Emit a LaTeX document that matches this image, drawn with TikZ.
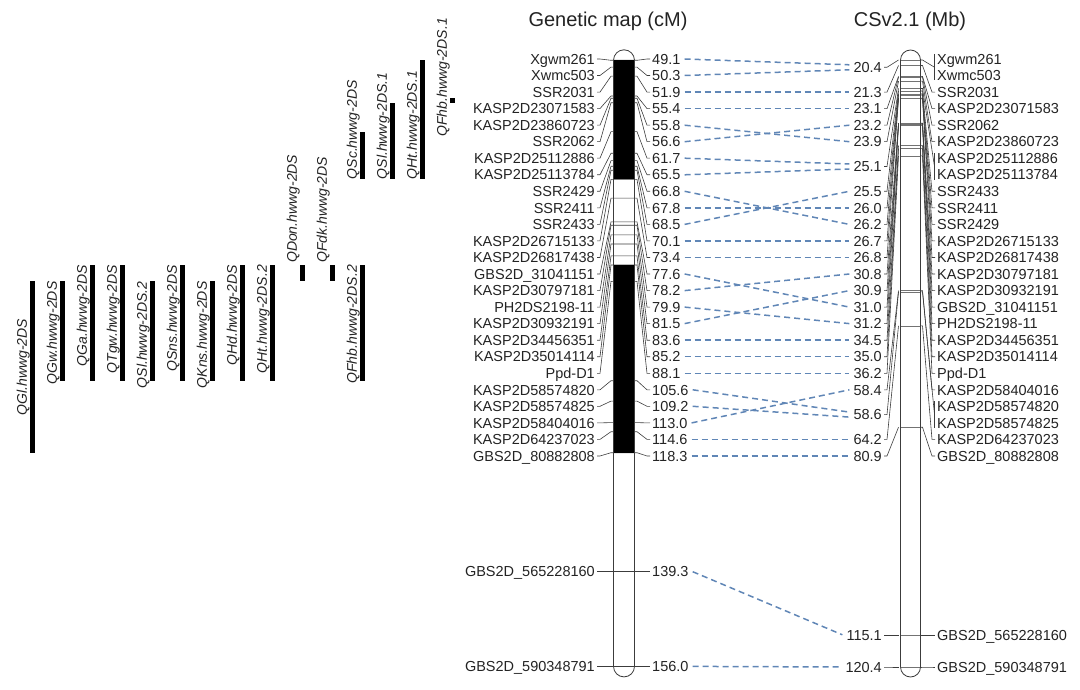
\documentclass[tikz,border=0pt]{standalone}
\usepackage{fontspec}
\setmainfont{Liberation Sans}
\usetikzlibrary{calc}

\definecolor{linkgray}{RGB}{60,60,60}
\definecolor{dashblue}{RGB}{96,134,182}
\definecolor{textgray}{RGB}{35,35,35}

\newcommand{\GenMarker}[5]{%
  \node[gname] (gn#1) at (595,#4) {#2};
  \node[gval] (gv#1) at (652,#4) {#3};
  \coordinate (gc#1) at (624,#5);
  \draw[link] ([xshift=2pt]gn#1.east) -- ++(3,0) -- ([xshift=-13pt]gc#1) -- ([xshift=13pt]gc#1) -- ([xshift=-5pt]gv#1.west) -- ([xshift=-2pt]gv#1.west);
}
\newcommand{\PhysValue}[4]{%
  \node[pval] (pv#1) at (882,#3) {#2};
  \coordinate (pc#1) at (910.5,#4);
  \draw[link] ([xshift=2pt]pv#1.east) -- ++(3,0) -- ([xshift=-12pt]pc#1);
  \draw[band] ([xshift=-10pt]pc#1) -- ([xshift=10pt]pc#1);
}
\newcommand{\PhysName}[4]{%
  \node[pname] (pn#1) at (937,#3) {#2};
  \draw[link] ([xshift=10pt]pc#4) -- ([xshift=12pt]pc#4) -- ([xshift=-5pt]pn#1.west) -- ([xshift=-2pt]pn#1.west);
}
\newcommand{\PhysPair}[7]{%
  \node[pname] (pn#1) at (937,#3) {#2};
  \node[pname] (pn#4) at (937,#6) {#5};
  \coordinate (br#7) at ($(pn#1.west)!0.5!(pn#4.west)+(-2.5,0)$);
  \draw[link] ([xshift=-2.5pt,yshift=5pt]pn#1.west) -- ([xshift=-2.5pt,yshift=-5pt]pn#4.west);
  \draw[link] ([xshift=10pt]pc#7) -- ([xshift=12pt]pc#7) -- (br#7);
}
\newcommand{\Synteny}[3]{%
  \draw[dlink] ([xshift=4pt]gv#1.east) -- ([xshift=-4pt,yshift=#3]pv#2.west);
}
\newcommand{\QTL}[7]{%
  \fill[black] (#3-2.2,#4) rectangle (#3+2.2,#5);
  \node[qtlname,anchor=#6] (q#1) at (#3-10.5,#7) {#2};
}

\begin{document}
\begin{tikzpicture}[x=1pt,y=-1pt]

\tikzset{
  gname/.style={anchor=east,inner sep=0pt,text height=10.4pt,text depth=0pt,text=textgray,font=\fontsize{14.5}{17}\selectfont},
  gval/.style={gname,anchor=west},
  pval/.style={gname,anchor=east},
  pname/.style={gname,anchor=west},
  link/.style={draw=linkgray,line width=0.6pt},
  band/.style={draw=black!55,line width=0.6pt},
  dlink/.style={draw=dashblue,line width=1.5pt,dash pattern=on 6pt off 4pt},
  chrom/.style={draw=linkgray,line width=0.8pt},
  qtlname/.style={rotate=90,inner sep=0pt,text height=10pt,text depth=0pt,text=textgray,font=\fontsize{14}{16}\selectfont\itshape},
  maptitle/.style={inner sep=0pt,text=textgray,font=\fontsize{20}{24}\selectfont}
}

\useasboundingbox (0,0) rectangle (1080,690);

\node[maptitle] (gtitle) at (608,21.7) {Genetic map (cM)};
\node[maptitle] (ptitle) at (910,21.7) {CSv2.1 (Mb)};

\fill[white,rounded corners=10.5pt] (613.5,49.8) rectangle (634.5,676.9);
\fill[white,rounded corners=10pt] (900.5,50) rectangle (920.5,677);

\GenMarker{0}{Xgwm261}{49.1}{59.0}{60.3}
\GenMarker{1}{Xwmc503}{50.3}{75.5}{67.1}
\GenMarker{2}{SSR2031}{51.9}{92.1}{76.2}
\GenMarker{3}{KASP2D23071583}{55.4}{108.6}{96.0}
\GenMarker{4}{KASP2D23860723}{55.8}{125.2}{98.3}
\GenMarker{5}{SSR2062}{56.6}{141.7}{102.8}
\GenMarker{6}{KASP2D25112886}{61.7}{158.2}{131.7}
\GenMarker{7}{KASP2D25113784}{65.5}{174.8}{153.3}
\GenMarker{8}{SSR2429}{66.8}{191.3}{160.7}
\GenMarker{9}{SSR2411}{67.8}{207.9}{166.3}
\GenMarker{10}{SSR2433}{68.5}{224.4}{170.3}
\GenMarker{11}{KASP2D26715133}{70.1}{240.9}{179.4}
\GenMarker{12}{KASP2D26817438}{73.4}{257.5}{198.1}
\GenMarker{13}{GBS2D\_31041151}{77.6}{274.0}{221.9}
\GenMarker{14}{KASP2D30797181}{78.2}{290.6}{225.3}
\GenMarker{15}{PH2DS2198-11}{79.9}{307.1}{234.9}
\GenMarker{16}{KASP2D30932191}{81.5}{323.6}{244.0}
\GenMarker{17}{KASP2D34456351}{83.6}{340.2}{255.9}
\GenMarker{18}{KASP2D35014114}{85.2}{356.7}{265.0}
\GenMarker{19}{Ppd-D1}{88.1}{373.3}{281.4}
\GenMarker{20}{KASP2D58574820}{105.6}{389.8}{380.7}
\GenMarker{21}{KASP2D58574825}{109.2}{406.3}{401.1}
\GenMarker{22}{KASP2D58404016}{113.0}{422.9}{422.6}
\GenMarker{23}{KASP2D64237023}{114.6}{439.4}{431.7}
\GenMarker{24}{GBS2D\_80882808}{118.3}{456.0}{452.7}
\GenMarker{25}{GBS2D\_565228160}{139.3}{571.7}{571.7}
\GenMarker{26}{GBS2D\_590348791}{156.0}{666.4}{666.4}

\fill[black] (613.5,60.3) rectangle (634.5,179.4);
\fill[black] (613.5,265.0) rectangle (634.5,452.7);
\draw[chrom,rounded corners=10.5pt] (613.5,49.8) rectangle (634.5,676.9);

\PhysValue{0}{20.4}{67.3}{60.0}
\PhysValue{1}{21.3}{92.1}{65.5}
\PhysValue{2}{23.1}{108.6}{76.4}
\PhysValue{3}{23.2}{125.2}{77.0}
\PhysValue{4}{23.9}{141.7}{81.2}
\PhysValue{5}{25.1}{166.5}{88.5}
\PhysValue{6}{25.5}{191.3}{91.0}
\PhysValue{7}{26.0}{207.9}{94.0}
\PhysValue{8}{26.2}{224.4}{95.2}
\PhysValue{9}{26.7}{240.9}{98.2}
\PhysValue{10}{26.8}{257.5}{98.8}
\PhysValue{11}{30.8}{274.0}{123.1}
\PhysValue{12}{30.9}{290.6}{123.7}
\PhysValue{13}{31.0}{307.1}{124.3}
\PhysValue{14}{31.2}{323.6}{125.6}
\PhysValue{15}{34.5}{340.2}{145.6}
\PhysValue{16}{35.0}{356.7}{148.6}
\PhysValue{17}{36.2}{373.3}{155.9}
\PhysValue{18}{58.4}{389.8}{290.7}
\PhysValue{19}{58.6}{414.6}{291.9}
\PhysValue{20}{64.2}{439.4}{325.9}
\PhysValue{21}{80.9}{456.0}{427.2}
\PhysValue{22}{115.1}{634.8}{634.8}
\PhysValue{23}{120.4}{667.0}{667.0}

\PhysPair{0}{Xgwm261}{59.0}{1}{Xwmc503}{75.5}{0}
\PhysName{2}{SSR2031}{92.1}{1}
\PhysName{3}{KASP2D23071583}{108.6}{2}
\PhysName{4}{SSR2062}{125.2}{3}
\PhysName{5}{KASP2D23860723}{141.7}{4}
\PhysPair{6}{KASP2D25112886}{158.2}{7}{KASP2D25113784}{174.8}{5}
\PhysName{8}{SSR2433}{191.3}{6}
\PhysName{9}{SSR2411}{207.9}{7}
\PhysName{10}{SSR2429}{224.4}{8}
\PhysName{11}{KASP2D26715133}{240.9}{9}
\PhysName{12}{KASP2D26817438}{257.5}{10}
\PhysName{13}{KASP2D30797181}{274.0}{11}
\PhysName{14}{KASP2D30932191}{290.6}{12}
\PhysName{15}{GBS2D\_31041151}{307.1}{13}
\PhysName{16}{PH2DS2198-11}{323.6}{14}
\PhysName{17}{KASP2D34456351}{340.2}{15}
\PhysName{18}{KASP2D35014114}{356.7}{16}
\PhysName{19}{Ppd-D1}{373.3}{17}
\PhysName{20}{KASP2D58404016}{389.8}{18}
\PhysPair{21}{KASP2D58574820}{406.3}{22}{KASP2D58574825}{422.9}{19}
\PhysName{23}{KASP2D64237023}{439.4}{20}
\PhysName{24}{GBS2D\_80882808}{456.0}{21}
\PhysName{25}{GBS2D\_565228160}{634.8}{22}
\PhysName{26}{GBS2D\_590348791}{667.0}{23}

\draw[chrom,rounded corners=10pt] (900.5,50) rectangle (920.5,677);

\Synteny{0}{0}{2.5pt}
\Synteny{1}{0}{-2.5pt}
\Synteny{2}{1}{0pt}
\Synteny{3}{2}{0pt}
\Synteny{4}{4}{0pt}
\Synteny{5}{3}{0pt}
\Synteny{6}{5}{2.5pt}
\Synteny{7}{5}{-2.5pt}
\Synteny{8}{8}{0pt}
\Synteny{9}{7}{0pt}
\Synteny{10}{6}{0pt}
\Synteny{11}{9}{0pt}
\Synteny{12}{10}{0pt}
\Synteny{13}{13}{0pt}
\Synteny{14}{11}{0pt}
\Synteny{15}{14}{0pt}
\Synteny{16}{12}{0pt}
\Synteny{17}{15}{0pt}
\Synteny{18}{16}{0pt}
\Synteny{19}{17}{0pt}
\Synteny{20}{19}{2.5pt}
\Synteny{21}{19}{-2.5pt}
\Synteny{22}{18}{0pt}
\Synteny{23}{20}{0pt}
\Synteny{24}{21}{0pt}
\Synteny{25}{22}{0pt}
\Synteny{26}{23}{0pt}

\QTL{Gl}{QGl.hwwg-2DS}{32.3}{281.4}{452.7}{center}{367}
\QTL{Gw}{QGw.hwwg-2DS}{62.3}{281.4}{380.7}{east}{281.4}
\QTL{Ga}{QGa.hwwg-2DS}{92.3}{265.0}{380.7}{east}{265.0}
\QTL{Tgw}{QTgw.hwwg-2DS}{122.3}{265.0}{380.7}{east}{265.0}
\QTL{SlB}{QSl.hwwg-2DS.2}{152.3}{281.4}{380.7}{east}{281.4}
\QTL{Sns}{QSns.hwwg-2DS}{182.3}{265.0}{380.7}{east}{265.0}
\QTL{Kns}{QKns.hwwg-2DS}{212.3}{281.4}{380.7}{east}{281.4}
\QTL{Hd}{QHd.hwwg-2DS}{242.3}{265.0}{380.7}{east}{265.0}
\QTL{HtB}{QHt.hwwg-2DS.2}{272.3}{265.0}{380.7}{east}{265.0}
\QTL{Don}{QDon.hwwg-2DS}{302.3}{265.0}{281.4}{west}{263}
\QTL{Fdk}{QFdk.hwwg-2DS}{332.3}{265.0}{281.4}{west}{263}
\QTL{FhbB}{QFhb.hwwg-2DS.2}{362.3}{265.0}{380.7}{east}{265.0}
\QTL{Sc}{QSc.hwwg-2DS}{362.3}{131.7}{179.4}{west}{179.4}
\QTL{SlA}{QSl.hwwg-2DS.1}{392.3}{102.8}{179.4}{west}{179.4}
\QTL{HtA}{QHt.hwwg-2DS.1}{422.3}{60.3}{179.4}{west}{179.4}
\QTL{FhbA}{QFhb.hwwg-2DS.1}{452.3}{98.3}{102.8}{east}{18}

\end{tikzpicture}
\end{document}
